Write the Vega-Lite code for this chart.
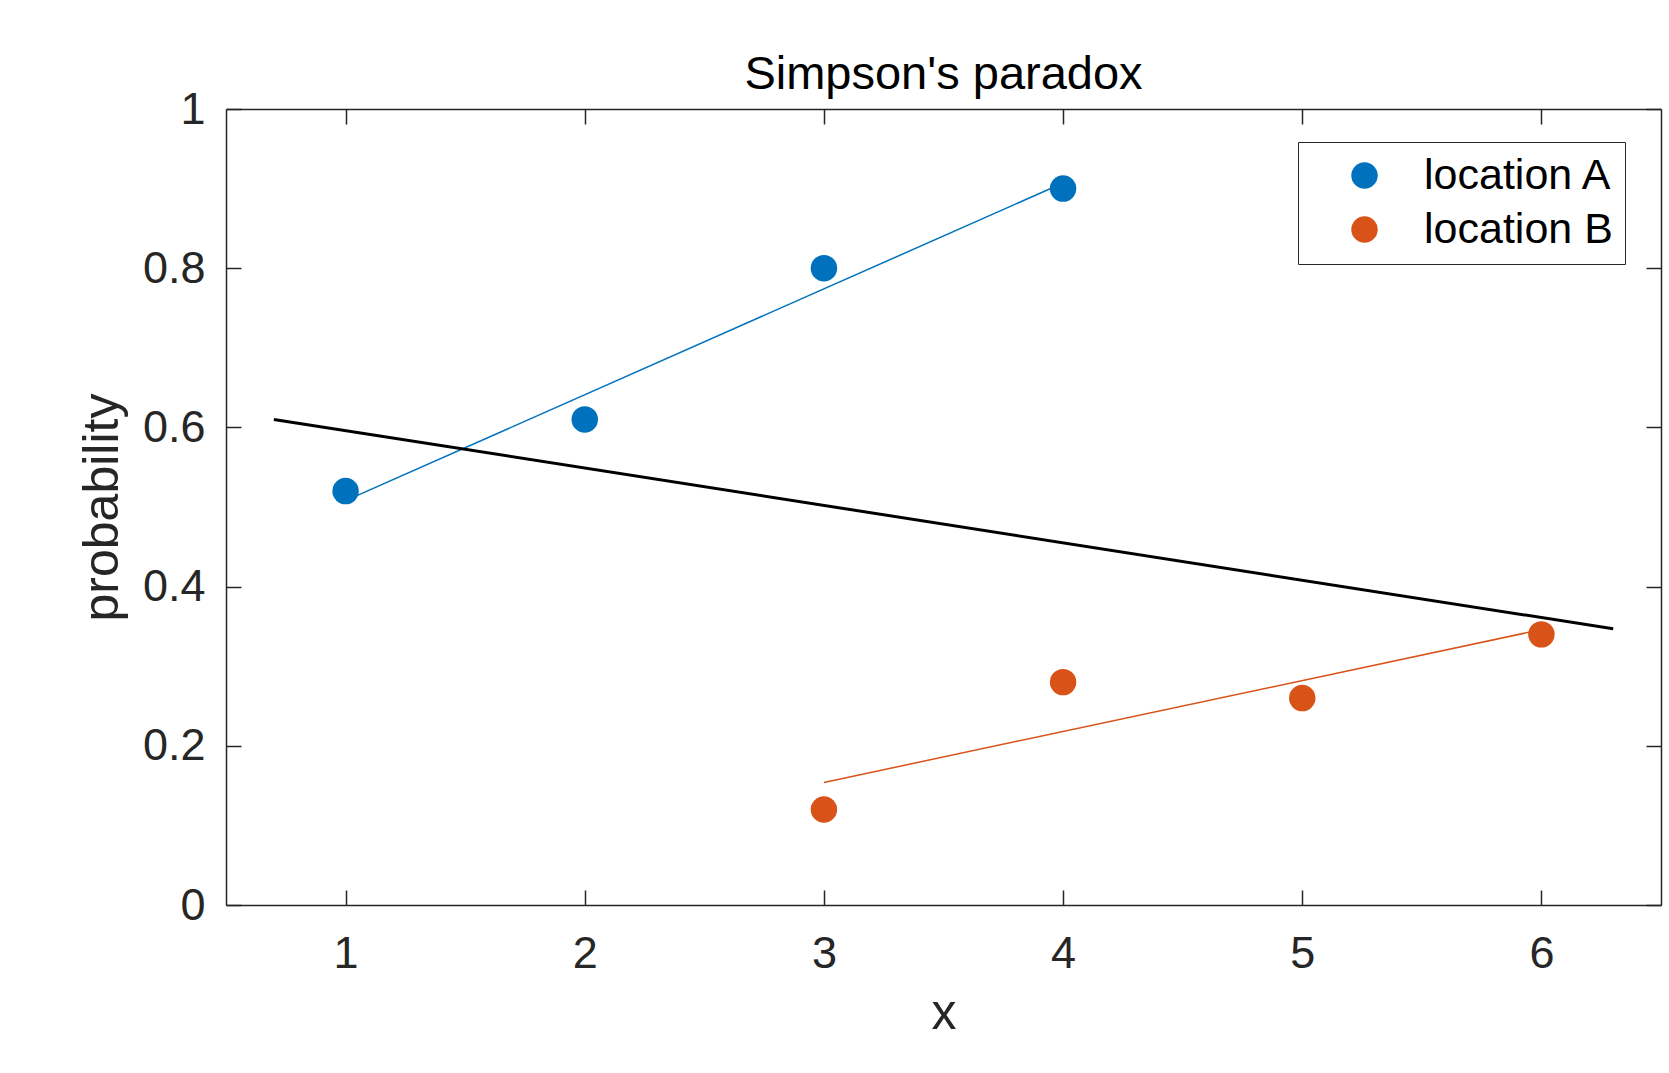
{
  "$schema": "https://vega.github.io/schema/vega-lite/v6.json",
  "autosize": {"type": "none"},
  "width": 1435,
  "height": 796,
  "padding": {"left": 226, "top": 109, "right": 8, "bottom": 168},
  "background": "white",
  "config": {
    "font": "Liberation Sans",
    "view": {"stroke": null},
    "axis": {"grid": false, "domainColor": "#262626", "tickColor": "#262626", "labelColor": "#262626", "titleColor": "#262626", "domainWidth": 1.5, "tickWidth": 1.5, "labelFont": "Liberation Sans", "titleFont": "Liberation Sans", "labelFontSize": 45, "titleFontSize": 50, "titleFontWeight": "normal"}
  },
  "title": {"text": "Simpson's paradox", "fontSize": 47, "fontWeight": "normal", "color": "black", "font": "Liberation Sans", "anchor": "middle", "offset": -12},
  "datasets": {
    "pts": [
      {"x": 1, "probability": 0.52, "location": "location A"},
      {"x": 2, "probability": 0.61, "location": "location A"},
      {"x": 3, "probability": 0.80, "location": "location A"},
      {"x": 4, "probability": 0.90, "location": "location A"},
      {"x": 3, "probability": 0.12, "location": "location B"},
      {"x": 4, "probability": 0.28, "location": "location B"},
      {"x": 5, "probability": 0.26, "location": "location B"},
      {"x": 6, "probability": 0.34, "location": "location B"}
    ],
    "fits": [
      {"x": 1, "probability": 0.508, "fit": "A"},
      {"x": 4, "probability": 0.907, "fit": "A"},
      {"x": 3, "probability": 0.154, "fit": "B"},
      {"x": 6, "probability": 0.346, "fit": "B"},
      {"x": 0.7, "probability": 0.610, "fit": "all"},
      {"x": 6.3, "probability": 0.347, "fit": "all"}
    ]
  },
  "resolve": {"axis": {"x": "independent", "y": "independent"}},
  "layer": [
    {
      "data": {"name": "fits"},
      "transform": [{"filter": "datum.fit === 'A'"}],
      "mark": {"type": "line", "color": "#0072BD", "strokeWidth": 1.5},
      "encoding": {
        "x": {"field": "x", "type": "quantitative", "scale": {"domain": [0.5, 6.5], "nice": false, "zero": false},
          "axis": {"orient": "bottom", "values": [1, 2, 3, 4, 5, 6], "tickSize": -15, "labelPadding": 41, "title": "x", "titlePadding": 12, "labelFlush": false}},
        "y": {"field": "probability", "type": "quantitative", "scale": {"domain": [0, 1], "nice": false},
          "axis": {"orient": "left", "values": [0, 0.2, 0.4, 0.6, 0.8, 1], "tickSize": -15, "labelPadding": 36, "title": "probability", "titlePadding": 15, "labelFlush": false, "labelExpr": "datum.value === 0 ? '0' : datum.value === 1 ? '1' : format(datum.value, '.1f')"}}
      }
    },
    {
      "data": {"name": "fits"},
      "transform": [{"filter": "datum.fit === 'B'"}],
      "mark": {"type": "line", "color": "#D95319", "strokeWidth": 1.5},
      "encoding": {
        "x": {"field": "x", "type": "quantitative",
          "axis": {"orient": "top", "values": [1, 2, 3, 4, 5, 6], "tickSize": -15, "labels": false, "title": null}},
        "y": {"field": "probability", "type": "quantitative",
          "axis": {"orient": "right", "values": [0, 0.2, 0.4, 0.6, 0.8, 1], "tickSize": -15, "labels": false, "title": null}}
      }
    },
    {
      "data": {"name": "fits"},
      "transform": [{"filter": "datum.fit === 'all'"}],
      "mark": {"type": "line", "color": "black", "strokeWidth": 3},
      "encoding": {
        "x": {"field": "x", "type": "quantitative", "axis": null},
        "y": {"field": "probability", "type": "quantitative", "axis": null}
      }
    },
    {
      "data": {"name": "pts"},
      "mark": {"type": "circle", "size": 700, "opacity": 1},
      "encoding": {
        "x": {"field": "x", "type": "quantitative", "axis": null},
        "y": {"field": "probability", "type": "quantitative", "axis": null},
        "color": {"field": "location", "type": "nominal",
          "scale": {"domain": ["location A", "location B"], "range": ["#0072BD", "#D95319"]},
          "legend": {"title": null, "orient": "none", "legendX": 1072, "legendY": 33, "strokeColor": "#262626", "fillColor": "white", "padding": 12, "symbolOffset": 33, "symbolSize": 700, "symbolType": "circle", "labelOffset": 38, "labelFontSize": 43, "labelColor": "black", "labelFont": "Liberation Sans", "rowPadding": 10, "labelLimit": 400}}
      }
    }
  ]
}
